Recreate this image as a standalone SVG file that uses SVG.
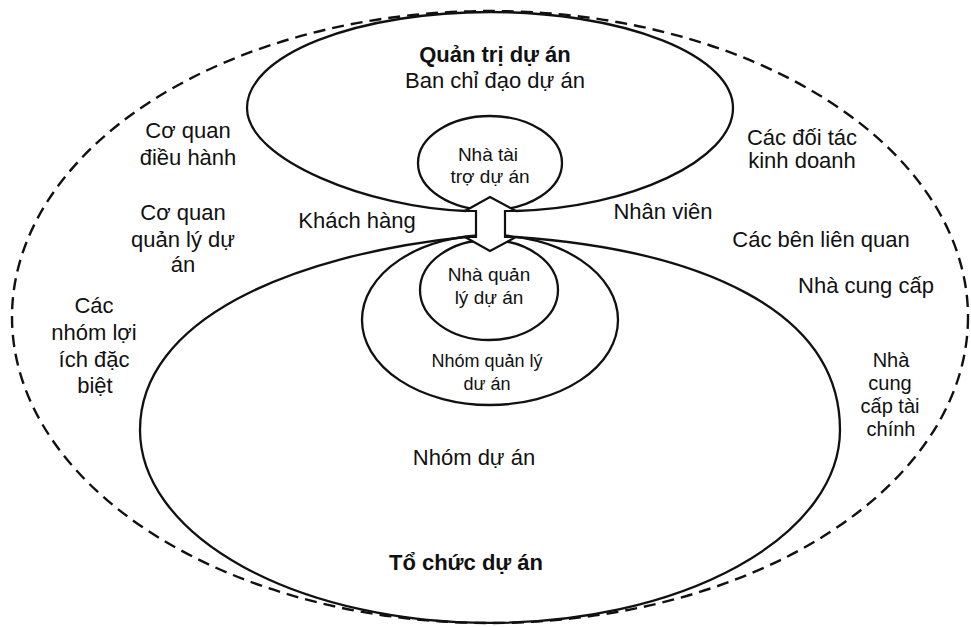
<svg xmlns="http://www.w3.org/2000/svg" width="971" height="627" viewBox="0 0 971 627">
  <style>
    .line { fill: none; stroke: #111; stroke-width: 2.3; }
    .dash { fill: none; stroke: #111; stroke-width: 2.4; stroke-dasharray: 12 7; }
    .arrow { fill: #fff; stroke: #111; stroke-width: 2.2; stroke-linejoin: miter; }
    text { font-family: "Liberation Sans", Arial, sans-serif; fill: #111; text-anchor: middle; }
    .lg { font-size: 22px; }
    .md { font-size: 20px; }
    .sm { font-size: 19px; }
    .xs { font-size: 18px; }
    .b { font-weight: bold; }
  </style>
  <rect width="971" height="627" fill="#fff"/>

  <!-- stakeholders boundary -->
  <g id="stakeholders">
    <ellipse class="dash" cx="490" cy="317" rx="478" ry="306"/>
    <text class="lg" x="188" y="138">Cơ quan</text>
    <text class="lg" x="188" y="165">điều hành</text>
    <text class="lg" x="183" y="220">Cơ quan</text>
    <text class="lg" x="183" y="247">quản lý dự</text>
    <text class="lg" x="183" y="272">án</text>
    <text class="lg" x="94" y="313">Các</text>
    <text class="lg" x="94" y="340">nhóm lợi</text>
    <text class="lg" x="94" y="367">ích đặc</text>
    <text class="lg" x="95" y="393">biệt</text>
    <text class="lg" x="357" y="228">Khách hàng</text>
    <text class="lg" x="663" y="219">Nhân viên</text>
    <text class="lg" x="802" y="145">Các đối tác</text>
    <text class="lg" x="802" y="168">kinh doanh</text>
    <text class="lg" x="821" y="247">Các bên liên quan</text>
    <text class="lg" x="866" y="293">Nhà cung cấp</text>
    <text class="md" x="891" y="367">Nhà</text>
    <text class="md" x="890" y="390">cung</text>
    <text class="md" x="890" y="413">cấp tài</text>
    <text class="md" x="891" y="436">chính</text>
  </g>

  <!-- project governance -->
  <g id="governance">
    <path class="line" d="M 466 211 C 370 208, 247 160, 247 108 A 243 96 0 0 1 733 108 C 733 160, 630 208, 516 211"/>
    <text class="lg b" x="495" y="62">Quản trị dự án</text>
    <text class="lg" x="495" y="88">Ban chỉ đạo dự án</text>
  </g>

  <g id="sponsor">
    <ellipse class="line" cx="490" cy="163" rx="72" ry="47"/>
    <text class="sm" x="488" y="161">Nhà tài</text>
    <text class="sm" x="490" y="183">trợ dự án</text>
  </g>

  <!-- project organisation -->
  <g id="organisation">
    <path class="line" d="M 466 237 C 290 255, 140 320, 140 430 A 350 193 0 0 0 840 430 C 840 310, 700 250, 516 237"/>
    <text class="lg" x="474" y="465">Nhóm dự án</text>
    <text class="lg b" x="466" y="570">Tổ chức dự án</text>
  </g>

  <g id="management-team">
    <ellipse class="line" cx="490" cy="320" rx="128" ry="85"/>
    <text class="xs" x="487" y="367">Nhóm quản lý</text>
    <text class="xs" x="487" y="390">dư án</text>
  </g>

  <g id="project-manager">
    <ellipse class="line" cx="489" cy="290" rx="69" ry="50"/>
    <text class="sm" x="489" y="281">Nhà quản</text>
    <text class="sm" x="489" y="304">lý dự án</text>
  </g>

  <!-- two-way link between governance and organisation -->
  <g id="connectors">
    <polygon class="arrow" points="490,197 516,211 505,211 505,237 516,237 490,251 465,237 476,237 476,211 465,211"/>
  </g>
</svg>
